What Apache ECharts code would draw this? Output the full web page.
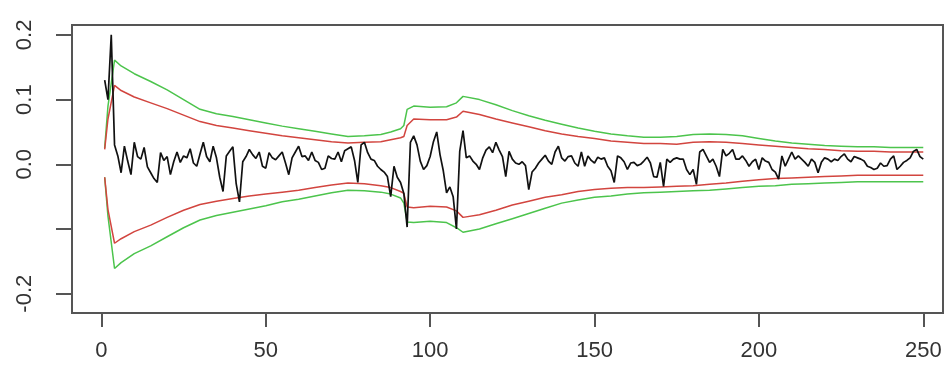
<!DOCTYPE html>
<html>
<head>
<meta charset="utf-8">
<script src="https://cdn.jsdelivr.net/npm/echarts@6/dist/echarts.min.js"></script>
<style>
  html, body { margin: 0; padding: 0; background: #fff; }
  #chart { width: 946px; height: 372px; }
</style>
</head>
<body>
<div id="chart"></div>
<script>
// tick labels
var xTicks = [0, 50, 100, 150, 200, 250];
var yTicks = [-0.2, -0.1, 0.0, 0.1, 0.2];
var yLabels = [-0.2, 0.0, 0.1, 0.2];

// black estimate, one value per step 1..250
var estimate = [
  0.13, 0.10, 0.20, 0.03, 0.013, -0.013, 0.028, 0.005, -0.016, 0.034,
  0.012, 0.008, 0.026, -0.004, -0.013, -0.022, -0.028, 0.018, 0.006, 0.012,
  -0.016, 0.004, 0.019, 0.003, 0.013, 0.010, 0.024, 0.002, -0.003, 0.016,
  0.034, 0.012, 0.004, 0.028, 0.010, -0.020, -0.042, 0.013, 0.020, 0.027,
  -0.030, -0.058, 0.004, 0.012, 0.023, 0.015, 0.009, 0.019, -0.003, -0.006,
  0.018, 0.010, 0.007, 0.013, 0.019, 0.002, -0.016, 0.010, 0.019, 0.028,
  0.012, 0.013, 0.006, 0.019, 0.006, 0.003, -0.008, -0.006, 0.013, 0.009,
  0.008, 0.019, 0.004, 0.021, 0.024, 0.027, 0.006, -0.028, 0.030, 0.034,
  0.018, 0.008, 0.006, -0.003, -0.008, -0.012, -0.019, -0.050, -0.003, -0.020,
  -0.028, -0.045, -0.097, 0.034, 0.044, 0.030, 0.005, -0.008, -0.002, 0.012,
  0.035, 0.050, 0.015, -0.010, -0.044, -0.035, -0.050, -0.100, 0.020, 0.052,
  0.010, 0.013, 0.005, 0.000, -0.008, 0.010, 0.022, 0.027, 0.018, 0.034,
  0.022, 0.012, -0.019, 0.020, 0.008, 0.002, 0.000, 0.004, -0.002, -0.039,
  -0.012, -0.006, 0.002, 0.008, 0.014, 0.005, 0.000, 0.019, 0.028, 0.010,
  0.005, 0.012, 0.013, 0.002, -0.003, 0.019, -0.003, 0.013, 0.006, 0.002,
  0.011, 0.008, 0.010, -0.003, -0.010, -0.028, 0.013, 0.010, 0.004, -0.008,
  0.002, 0.003, -0.002, 0.000, 0.005, 0.011, 0.002, -0.019, -0.020, 0.003,
  -0.034, 0.008, 0.003, 0.008, 0.010, 0.008, 0.008, -0.008, -0.016, -0.008,
  -0.031, 0.019, 0.023, 0.013, 0.003, 0.008, -0.003, -0.019, 0.023, 0.013,
  0.017, 0.023, 0.008, 0.008, 0.013, 0.006, -0.003, 0.004, 0.008, -0.008,
  0.010, 0.005, 0.003, -0.008, -0.012, -0.023, 0.013, -0.003, 0.008, 0.019,
  0.008, 0.013, 0.008, 0.003, -0.003, 0.008, 0.003, -0.013, 0.003, 0.010,
  0.008, 0.004, 0.008, 0.006, 0.012, 0.016, 0.008, 0.004, 0.012, 0.010,
  0.008, 0.005, -0.003, -0.005, -0.008, -0.006, 0.002, -0.003, -0.002, 0.008,
  0.013, -0.008, -0.003, 0.003, 0.006, 0.010, 0.020, 0.023, 0.012, 0.008
];

// band read-off positions and values
var bandX = [1, 2, 4, 6, 10, 15, 20, 25, 30, 35, 40, 45, 50, 55, 60, 65, 70, 75,
  80, 85, 88, 91, 92, 93, 95, 100, 105, 108, 110, 115, 120, 125, 130, 135, 140,
  145, 150, 155, 160, 165, 170, 175, 180, 185, 190, 195, 200, 205, 210, 215, 220,
  225, 230, 235, 240, 245, 250];

var redUpper = [0.023, 0.07, 0.122, 0.114, 0.104, 0.095, 0.086, 0.076, 0.066, 0.060, 0.056, 0.052,
  0.048, 0.044, 0.041, 0.038, 0.035, 0.033, 0.034, 0.035, 0.038, 0.041, 0.043, 0.060, 0.070,
  0.069, 0.069, 0.073, 0.082, 0.077, 0.070, 0.064, 0.058, 0.052, 0.047, 0.043, 0.040, 0.036,
  0.034, 0.032, 0.032, 0.031, 0.034, 0.035, 0.034, 0.032, 0.030, 0.028, 0.026, 0.024, 0.023,
  0.021, 0.020, 0.020, 0.019, 0.019, 0.019];

var greenUpper = [0.025, 0.09, 0.161, 0.152, 0.140, 0.128, 0.115, 0.100, 0.085, 0.078, 0.074, 0.069,
  0.064, 0.059, 0.055, 0.051, 0.047, 0.043, 0.044, 0.046, 0.050, 0.055, 0.060, 0.085, 0.090,
  0.088, 0.089, 0.095, 0.105, 0.100, 0.092, 0.083, 0.075, 0.068, 0.062, 0.056, 0.051, 0.047,
  0.044, 0.042, 0.042, 0.043, 0.046, 0.047, 0.046, 0.044, 0.040, 0.036, 0.033, 0.031, 0.029,
  0.028, 0.027, 0.027, 0.026, 0.026, 0.026];

var redLower = [-0.020, -0.07, -0.122, -0.115, -0.104, -0.094, -0.082, -0.071, -0.062, -0.057, -0.053,
  -0.049, -0.046, -0.043, -0.040, -0.036, -0.032, -0.029, -0.030, -0.033, -0.036, -0.042, -0.045,
  -0.066, -0.067, -0.065, -0.066, -0.072, -0.082, -0.078, -0.071, -0.063, -0.057, -0.051, -0.047,
  -0.042, -0.039, -0.037, -0.036, -0.036, -0.035, -0.034, -0.033, -0.031, -0.029, -0.026, -0.024,
  -0.022, -0.021, -0.020, -0.019, -0.018, -0.017, -0.017, -0.017, -0.017, -0.017];

var greenLower = [-0.020, -0.08, -0.161, -0.152, -0.138, -0.126, -0.112, -0.098, -0.086, -0.079, -0.074,
  -0.069, -0.064, -0.058, -0.054, -0.049, -0.044, -0.040, -0.041, -0.043, -0.046, -0.052, -0.060,
  -0.089, -0.090, -0.088, -0.090, -0.098, -0.105, -0.100, -0.092, -0.084, -0.076, -0.068, -0.060,
  -0.055, -0.051, -0.049, -0.046, -0.044, -0.043, -0.042, -0.041, -0.040, -0.038, -0.036, -0.034,
  -0.033, -0.031, -0.030, -0.029, -0.028, -0.027, -0.027, -0.027, -0.027, -0.027];

var pairs = function(xs, ys) {
  var out = [];
  for (var i = 0; i < ys.length; i++) {
    out.push([xs[i], ys[i]]);
  }
  return out;
};

var steps = [];
for (var i = 0; i < estimate.length; i++) {
  steps.push(i + 1);
}

var fontFamily = '"Liberation Sans", Arial, sans-serif';
var frameColor = '#555';

var lineSeries = function(name, data, color, width) {
  return {
    name: name,
    type: 'line',
    data: data,
    showSymbol: false,
    silent: true,
    animation: false,
    lineStyle: { color: color, width: width },
    z: name === 'estimate' ? 5 : 3
  };
};

var chart = echarts.init(document.getElementById('chart'));
chart.setOption({
  backgroundColor: '#fff',
  animation: false,
  grid: {
    left: 72, right: 3, top: 25, bottom: 59,
    show: true,
    borderColor: frameColor,
    borderWidth: 2,
    backgroundColor: 'transparent'
  },
  xAxis: {
    type: 'value',
    min: -8.94,
    max: 256,
    splitLine: { show: false },
    axisLine: { show: false, onZero: false },
    axisTick: {
      show: true, length: 14, inside: false,
      customValues: xTicks,
      lineStyle: { color: frameColor, width: 2 }
    },
    axisLabel: {
      customValues: xTicks,
      color: '#333',
      fontSize: 22,
      fontFamily: fontFamily,
      margin: 27
    }
  },
  yAxis: {
    type: 'value',
    min: -0.2298,
    max: 0.2153,
    splitLine: { show: false },
    axisLine: { show: false, onZero: false },
    axisTick: {
      show: true, length: 16, inside: false,
      customValues: yTicks,
      lineStyle: { color: frameColor, width: 2 }
    },
    axisLabel: {
      customValues: yLabels,
      rotate: 90,
      color: '#333',
      fontSize: 22,
      fontFamily: fontFamily,
      margin: 36,
      formatter: function(v) { return v.toFixed(1); }
    }
  },
  series: [
    lineSeries('greenUpper', pairs(bandX, greenUpper), '#4cc44c', 1.5),
    lineSeries('greenLower', pairs(bandX, greenLower), '#4cc44c', 1.5),
    lineSeries('redUpper', pairs(bandX, redUpper), '#d2453f', 1.5),
    lineSeries('redLower', pairs(bandX, redLower), '#d2453f', 1.5),
    lineSeries('estimate', pairs(steps, estimate), '#111', 1.7)
  ]
});
</script>
</body>
</html>
